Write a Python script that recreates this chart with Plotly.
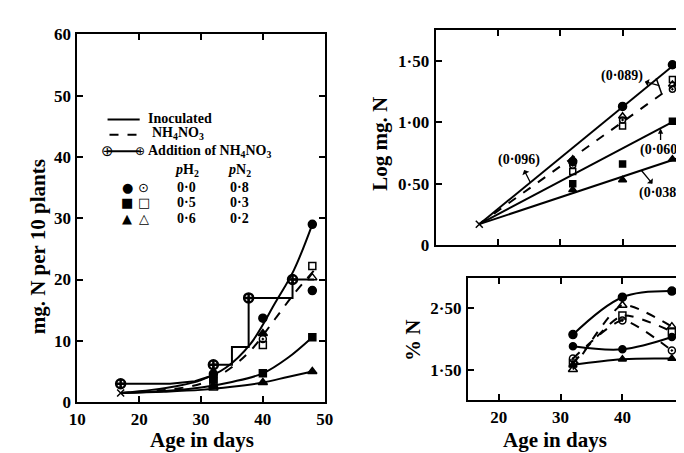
import plotly.graph_objects as go

W, H = 684, 453
SERIF = "Liberation Serif"
SYM = "DejaVu Sans"

# ---------------- Left panel: mg. N per 10 plants ----------------
inoc_a_x = [17, 22, 26, 30, 34, 38, 42, 45, 48]
inoc_a_y = [1.5, 2.0, 2.6, 3.6, 5.6, 9.5, 16.2, 21.5, 29.0]
nh4_x = [17, 22, 26, 30, 34, 38, 42, 45, 48.3]
nh4_y = [1.5, 1.8, 2.2, 3.0, 5.0, 8.4, 13.6, 17.6, 21.5]
inoc_b_x = [17, 24, 30, 35, 40, 44, 48]
inoc_b_y = [1.5, 1.8, 2.4, 3.3, 4.7, 7.2, 10.6]
inoc_c_x = [17, 24, 30, 35, 40, 44, 48]
inoc_c_y = [1.5, 1.7, 2.0, 2.5, 3.2, 4.1, 5.0]
add_x = [17, 25, 29, 32, 32, 35, 35, 37.7, 37.7, 44.8, 44.8, 48.3]
add_y = [3, 3, 3.4, 4.4, 6.1, 6.1, 9, 9, 17, 17, 20, 20]
add_pts_x = [17, 32, 37.7, 44.8]
add_pts_y = [3, 6.1, 17, 20]
start_x = [17]
start_y = [1.5]

fc_x = [32, 40, 48, 48]; fc_y = [4.6, 13.7, 29.0, 18.2]
fs_x = [32, 40, 48]; fs_y = [3.7, 4.7, 10.6]
ft_x = [32, 40, 40, 48]; ft_y = [2.7, 3.2, 11.2, 5.0]
oc_x = [32, 40]; oc_y = [4.0, 10.3]
os_x = [32, 40, 48]; os_y = [3.2, 9.3, 22.2]
ot_x = [32, 48]; ot_y = [2.3, 20.3]

# ---------------- Top right: Log mg. N ----------------
log_start = (17, 0.17)
log_lines_end_x = [49, 49, 49, 49]
log_lines_end_y = [1.50, 1.33, 1.03, 0.71]
log_lines_dash = ["solid", "dash", "solid", "solid"]
log_fc_x = [32, 40, 48]; log_fc_y = [0.68, 1.13, 1.47]
log_fs_x = [32, 40, 48]; log_fs_y = [0.50, 0.66, 1.01]
log_ft_x = [32, 40, 48]; log_ft_y = [0.45, 0.53, 0.70]
log_oc_x = [32, 40, 48]; log_oc_y = [0.65, 1.02, 1.27]
log_os_x = [32, 40, 48]; log_os_y = [0.60, 0.97, 1.35]
log_ot_x = [32, 40, 48]; log_ot_y = [0.70, 1.05, 1.31]

# ---------------- Bottom right: % N ----------------
pct_x = [32, 40, 48]
pct_a = [2.07, 2.68, 2.78]
pct_b = [1.88, 1.83, 2.03]
pct_c = [1.58, 1.67, 1.68]
pct_d = [1.50, 2.55, 2.20]   # open triangle, dashed
pct_e = [1.60, 2.38, 2.12]   # open square, dashed
pct_f = [1.68, 2.30, 1.81]   # open circle, dashed

fig = go.Figure()

def line(x, y, xa, ya, dash="solid", shape="spline", w=2, smooth=1.0):
    fig.add_trace(go.Scatter(x=x, y=y, mode="lines", xaxis=xa, yaxis=ya,
                             line=dict(color="black", width=w, dash=dash, shape=shape,
                                       smoothing=smooth if shape == "spline" else None),
                             hoverinfo="skip", showlegend=False))

def mk(x, y, xa, ya, symbol, size=8, lw=1.5):
    fig.add_trace(go.Scatter(x=x, y=y, mode="markers", xaxis=xa, yaxis=ya,
                             marker=dict(symbol=symbol, size=size, color="black",
                                         line=dict(color="black", width=lw)),
                             hoverinfo="skip", showlegend=False))

# left panel
line(inoc_a_x, inoc_a_y, "x", "y")
line(nh4_x, nh4_y, "x", "y", dash="dash")
line(inoc_b_x, inoc_b_y, "x", "y")
line(inoc_c_x, inoc_c_y, "x", "y")
line(add_x, add_y, "x", "y", shape="linear")
mk(add_pts_x, add_pts_y, "x", "y", "circle-cross-open", 9, 2.5)
mk(start_x, start_y, "x", "y", "x-thin-open", 7, 1.5)
mk(fc_x, fc_y, "x", "y", "circle", 8)
mk(fs_x, fs_y, "x", "y", "square", 7)
mk(ft_x, ft_y, "x", "y", "triangle-up", 8)
mk(oc_x, oc_y, "x", "y", "circle-open-dot", 7)
mk(os_x, os_y, "x", "y", "square-open", 7)
mk(ot_x, ot_y, "x", "y", "triangle-up-open", 8)

# top right panel
for ex, ey, d in zip(log_lines_end_x, log_lines_end_y, log_lines_dash):
    line([log_start[0], ex], [log_start[1], ey], "x2", "y2", dash=d, shape="linear")
mk([log_start[0]], [log_start[1]], "x2", "y2", "x-thin-open", 7, 1.5)
mk(log_fc_x, log_fc_y, "x2", "y2", "circle", 8)
mk(log_fs_x, log_fs_y, "x2", "y2", "square", 6)
mk(log_ft_x, log_ft_y, "x2", "y2", "triangle-up", 7)
mk(log_oc_x, log_oc_y, "x2", "y2", "circle-open-dot", 6)
mk(log_os_x, log_os_y, "x2", "y2", "square-open", 6)
mk(log_ot_x, log_ot_y, "x2", "y2", "triangle-up-open", 7)

# bottom right panel
line(pct_x, pct_a, "x3", "y3")
line(pct_x, pct_b, "x3", "y3")
line(pct_x, pct_c, "x3", "y3")
line(pct_x, pct_d, "x3", "y3", dash="dash", smooth=0.6)
line(pct_x, pct_e, "x3", "y3", dash="dash", smooth=0.6)
line(pct_x, pct_f, "x3", "y3", dash="dash", smooth=0.6)
mk(pct_x, pct_a, "x3", "y3", "circle", 8)
mk(pct_x, pct_b, "x3", "y3", "circle", 7)
mk(pct_x, pct_c, "x3", "y3", "triangle-up", 7)
mk(pct_x, pct_d, "x3", "y3", "triangle-up-open", 8)
mk(pct_x, pct_e, "x3", "y3", "square-open", 7)
mk(pct_x, pct_f, "x3", "y3", "circle-open-dot", 7)

tickfont = dict(family=SERIF, size=17, color="black", weight="bold")
ax_common = dict(showgrid=False, zeroline=False, showline=True, linecolor="black",
                 linewidth=2, ticks="inside", ticklen=6, tickwidth=1.5,
                 tickcolor="black", tickfont=tickfont)

def px2x(px):
    return px / W

def py2y(py):
    return 1 - py / H

layout = dict(
    width=W, height=H, margin=dict(l=0, r=0, t=0, b=0),
    paper_bgcolor="white", plot_bgcolor="white", showlegend=False,
    xaxis=dict(domain=[px2x(62), px2x(316)], range=[10, 50], tickvals=[10, 20, 30, 40, 50],
               mirror="ticks", anchor="y", **ax_common),
    yaxis=dict(domain=[py2y(402), py2y(18)], range=[0, 60], tickvals=[0, 10, 20, 30, 40, 50, 60],
               mirror="ticks", anchor="x", ticklabelstandoff=1, **ax_common),
    xaxis2=dict(domain=[px2x(430), 1.0], range=[10, 49.7], tickvals=[20, 30, 40],
                showticklabels=False, mirror="ticks", anchor="y2", **ax_common),
    yaxis2=dict(domain=[py2y(238), py2y(14)], range=[0, 1.75], tickvals=[0, 0.5, 1.0, 1.5],
                ticktext=["0", "0·50", "1·00", "1·50"], anchor="x2", ticklabelstandoff=1,
                **ax_common),
    xaxis3=dict(domain=[px2x(463), 1.0], range=[15, 49.8], tickvals=[20, 30, 40],
                mirror="ticks", anchor="y3", **ax_common),
    yaxis3=dict(domain=[py2y(400), py2y(272)], range=[1.0, 3.0], tickvals=[1.5, 2.5],
                ticktext=["1·50", "2·50"], anchor="x3", ticklabelstandoff=1, **ax_common),
)
fig.update_layout(**layout)

title_font = dict(family=SERIF, size=21, color="black", weight="bold")
leg_font = dict(family=SERIF, size=14, color="black", weight="bold")
sym_font = dict(family=SYM, size=13, color="black")

ann = []
def text(px, py, t, font, xanchor="center", angle=0):
    ann.append(dict(x=px2x(px), y=py2y(py), xref="paper", yref="paper", text=t,
                    showarrow=False, font=font, xanchor=xanchor, yanchor="middle",
                    textangle=angle))

# axis titles
text(22, 240, "mg. N per 10 plants", title_font, angle=-90)
text(190, 442, "Age in days", title_font)
text(373, 132, "Log mg. N", title_font, angle=-90)
text(407, 338, "% N", title_font, angle=-90)
text(553, 442, "Age in days", title_font)

# legend (left panel)
shapes = [
    dict(type="line", xref="paper", yref="paper", x0=px2x(93), x1=px2x(126),
         y0=py2y(107), y1=py2y(107), line=dict(color="black", width=2)),
    dict(type="line", xref="paper", yref="paper", x0=px2x(95), x1=px2x(126),
         y0=py2y(123), y1=py2y(123), line=dict(color="black", width=2, dash="dash")),
    dict(type="line", xref="paper", yref="paper", x0=px2x(93), x1=px2x(126),
         y0=py2y(140), y1=py2y(140), line=dict(color="black", width=2)),
]
text(132, 106, "Inoculated", leg_font, xanchor="left")
text(137, 122, "NH<sub>4</sub>NO<sub>3</sub>", leg_font, xanchor="left")
text(132, 140, "Addition of NH<sub>4</sub>NO<sub>3</sub>", leg_font, xanchor="left")
text(93, 140, "⊕", dict(family=SYM, size=15, color="black"))
text(126, 140, "⊕", dict(family=SYM, size=12, color="black"))
text(175, 160, "<i>p</i>H<sub>2</sub>", leg_font)
text(229, 160, "<i>p</i>N<sub>2</sub>", leg_font)
legend_sym_filled = ["●", "■", "▲"]
legend_sym_open = ["⊙", "□", "△"]
legend_ph2 = ["0·0", "0·5", "0·6"]
legend_pn2 = ["0·8", "0·3", "0·2"]
for i, py in enumerate([178, 194, 210]):
    text(113, py, legend_sym_filled[i], sym_font)
    text(130, py, legend_sym_open[i], sym_font)
    text(174, py, legend_ph2[i], leg_font)
    text(229, py, legend_pn2[i], leg_font)

# slope annotations (top right)
af = dict(family=SERIF, size=14, color="black", weight="bold")
arr = dict(arrowhead=2, arrowsize=0.8, arrowwidth=1.3, arrowcolor="black")
ann.append(dict(x=25.2, y=0.51, xref="x2", yref="y2", text="(0·096)", font=af,
                showarrow=True, ax=-11, ay=-22, arrowside="start", **arr))
ann.append(dict(x=45.9, y=1.30, xref="x2", yref="y2", text="(0·089)", font=af,
                showarrow=True, ax=-37, ay=-10, arrowside="start", **arr))
ann.append(dict(x=46.1, y=0.95, xref="x2", yref="y2", text="(0·060)", font=af,
                showarrow=True, ax=0, ay=21, **arr))
ann.append(dict(x=43.0, y=0.61, xref="x2", yref="y2", text="(0·038)", font=af,
                showarrow=True, ax=19, ay=23, arrowside="start", **arr))
shapes.append(dict(type="line", xref="x2", yref="y2", x0=45.4, x1=46.3, y0=1.36, y1=1.23,
                   line=dict(color="black", width=1.5)))

fig.update_layout(annotations=ann, shapes=shapes)
fig.write_html("out.html")
